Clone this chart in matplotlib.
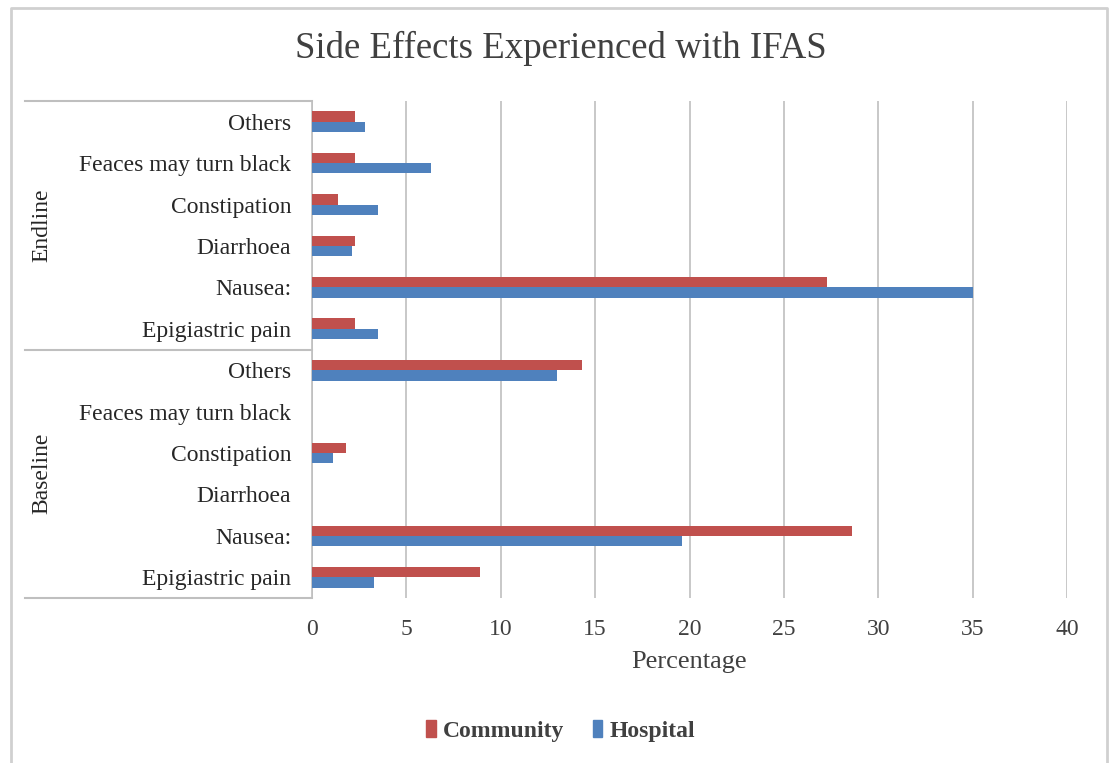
import numpy as np
import matplotlib
matplotlib.use('Agg')
import matplotlib.pyplot as plt
from matplotlib.lines import Line2D
from matplotlib.patches import Patch

# categories from bottom to top within each group
categories = ["Epigiastric pain", "Nausea:", "Diarrhoea", "Constipation",
              "Feaces may turn black", "Others"]
groups = ["Baseline", "Endline"]

baseline_community = [8.9, 28.6, 0, 1.8, 0, 14.3]
baseline_hospital = [3.3, 19.6, 0, 1.1, 0, 13.0]
endline_community = [2.3, 27.3, 2.3, 1.4, 2.3, 2.3]
endline_hospital = [3.5, 35.0, 2.1, 3.5, 6.3, 2.8]

red = "#C0504D"
blue = "#4F81BD"
grid_col = "#BFBFBF"
serif = ["Liberation Serif", "DejaVu Serif"]

plt.rcParams['font.family'] = serif

community = baseline_community + endline_community
hospital = baseline_hospital + endline_hospital
labels = categories + categories
y = np.arange(len(labels))
h = 0.25

fig = plt.figure(figsize=(11.1, 7.63), dpi=100)
ax = fig.add_axes([312/1110, 1-598/763, (1067-312)/1110, (598-101)/763])

ax.barh(y + h/2, community, h, color=red, linewidth=0, zorder=3)
ax.barh(y - h/2, hospital, h, color=blue, linewidth=0, zorder=3)

ax.set_xlim(0, 40)
ax.set_ylim(-0.5, len(labels) - 0.5)
ax.set_xticks(np.arange(0, 41, 5))
ax.xaxis.grid(True, color=grid_col, linewidth=1.2, zorder=0)
ax.tick_params(axis='x', length=0, labelsize=17, colors="#404040", pad=15)
ax.set_yticks(y)
ax.set_yticklabels(labels, fontsize=17, color="#262626")
ax.tick_params(axis='y', length=0, pad=15)
for s in ["top", "right", "bottom"]:
    ax.spines[s].set_visible(False)
ax.spines["left"].set_color(grid_col)
ax.spines["left"].set_linewidth(1.2)

ax.set_xlabel("Percentage", fontsize=19, color="#404040", labelpad=8)

# group separators and labels
for yy in [-0.5, 5.5, 11.5]:
    ax.add_line(Line2D([-15.2, 0], [yy, yy], transform=ax.transData, color=grid_col,
                       linewidth=1.5, clip_on=False))
for i, g in enumerate(groups):
    ax.text(-14.3, 2.5 + 6*i, g, rotation=90, ha='center', va='center',
            fontsize=17, color="#262626")

fig.text(0.505, 1-48/763, "Side Effects Experienced with IFAS", ha='center', va='center',
         fontsize=26.5, color="#404040")

handles = [Patch(color=red, label="Community"), Patch(color=blue, label="Hospital")]
fig.legend(handles=handles, loc='center', bbox_to_anchor=(0.505, 1-731/763), ncol=2,
           frameon=False, prop={'family': serif, 'weight': 'bold', 'size': 17},
           handlelength=0.4, handleheight=0.7, handletextpad=0.3, columnspacing=1.2,
           labelcolor="#404040")

# outer border
fig.add_artist(Line2D([11/1110, 11/1110, 1107/1110, 1107/1110],
                      [0, 1-8/763, 1-8/763, 0], transform=fig.transFigure,
                      color="#D0D0D0", linewidth=2))

plt.savefig("out.png")
plt.close()
